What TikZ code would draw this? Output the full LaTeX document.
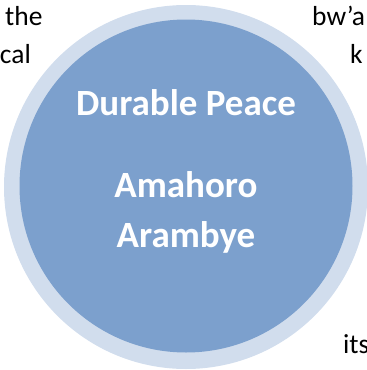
\documentclass[tikz,border=0pt]{standalone}
\usepackage{fontspec}
\setmainfont{Carlito}
\definecolor{ringc}{HTML}{D1DDED}
\definecolor{diskc}{HTML}{7CA0CD}
\begin{document}
\begin{tikzpicture}[x=1pt,y=-1pt,
  bgtext/.style={font=\fontsize{27.5}{32}\selectfont, inner sep=0pt, text=black},
  titletext/.style={font=\bfseries\fontsize{37}{44}\selectfont, text=white, inner sep=0pt, anchor=base},
  ringdisk/.style={circle, fill=ringc, draw=none, inner sep=0pt, minimum size=364pt},
  maindisk/.style={circle, fill=diskc, draw=none, inner sep=0pt, minimum size=333pt}]
\useasboundingbox (0,0) rectangle (367,370);
\clip (0,0) rectangle (367,370);
\node[bgtext, anchor=base west] (w1) at (5,25) {the};
\node[bgtext, anchor=base east] (w2) at (31,63) {cal};
\node[bgtext, anchor=base west] (w3) at (312,25) {bw’a};
\node[bgtext, anchor=base west] (w4) at (350,63) {k};
\node[bgtext, anchor=base west] (w5) at (343,353) {its};
\node[ringdisk] (outer) at (186,187) {};
\node[maindisk] (inner) at (186,186) {};
\node[titletext] (t1) at (186,115) {Durable Peace};
\node[titletext] (t2) at (186,197) {Amahoro};
\node[titletext] (t3) at (186,247) {Arambye};
\end{tikzpicture}
\end{document}
